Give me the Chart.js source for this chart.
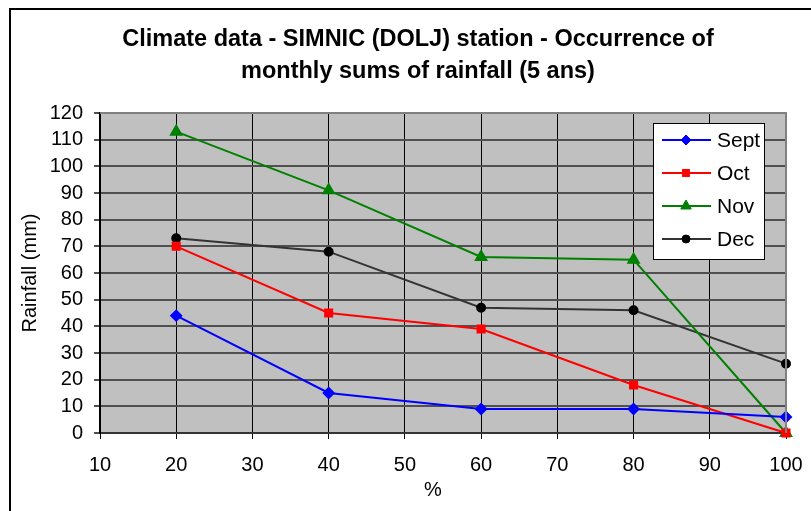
<!DOCTYPE html>
<html>
<head>
<meta charset="utf-8">
<script src="https://cdn.jsdelivr.net/npm/chart.js@4.4.0/dist/chart.umd.min.js"></script>
<style>
  body { margin: 0; background: #fff; }
  #wrap { width: 811px; height: 511px; position: relative; }
</style>
</head>
<body>
<div id="wrap"><canvas id="rainChart" width="811" height="511"></canvas></div>
<script>
const percents = [20, 40, 60, 80, 100];
const sept = [44, 15, 9, 9, 6];
const oct = [70, 45, 39, 18, 0];
const nov = [113, 91, 66, 65, 0];
const dec = [73, 68, 47, 46, 26];
const seriesNames = ['Sept', 'Oct', 'Nov', 'Dec'];
const titleLines = ['Climate data - SIMNIC (DOLJ) station - Occurrence of', 'monthly sums of rainfall (5 ans)'];
const xTitle = '%';

const FONT = 'Liberation Sans, Arial, sans-serif';

function toPoints(values) {
    return values.map((v, i) => ({ x: percents[i], y: v }));
}

// grey plot area, frame, titles
const backgroundPlugin = {
    id: 'background',
    beforeDraw(chart) {
        const { ctx, chartArea } = chart;
        ctx.save();
        ctx.fillStyle = '#fff';
        ctx.fillRect(0, 0, chart.width, chart.height);
        ctx.fillStyle = '#C0C0C0';
        ctx.fillRect(chartArea.left, chartArea.top, chartArea.right - chartArea.left, chartArea.bottom - chartArea.top);
        // chart frame: only top and left edges fall inside the picture
        ctx.strokeStyle = '#000';
        ctx.lineWidth = 2;
        ctx.beginPath();
        ctx.moveTo(10, chart.height);
        ctx.lineTo(10, 9);
        ctx.lineTo(chart.width, 9);
        ctx.stroke();
        ctx.fillStyle = '#000';
        ctx.font = 'bold 23.5px ' + FONT;
        ctx.textAlign = 'center';
        ctx.textBaseline = 'middle';
        ctx.fillText(titleLines[0], 418, 40);
        ctx.fillText(titleLines[1], 418, 72);
        ctx.font = '20px ' + FONT;
        ctx.fillText(xTitle, 433, 490);
        ctx.restore();
    },
    afterDraw(chart) {
        const { ctx, chartArea } = chart;
        ctx.save();
        ctx.strokeStyle = '#808080';
        ctx.lineWidth = 2;
        ctx.beginPath();
        ctx.moveTo(chartArea.left, chartArea.top);
        ctx.lineTo(chartArea.right, chartArea.top);
        ctx.lineTo(chartArea.right, chartArea.bottom);
        ctx.stroke();
        ctx.restore();
    }
};

// legend box inside the plot area
const boxLegendPlugin = {
    id: 'boxLegend',
    afterDraw(chart) {
        const ctx = chart.ctx;
        const x = 653, y = 123, w = 111, h = 136;
        ctx.save();
        ctx.fillStyle = '#fff';
        ctx.fillRect(x, y, w, h);
        ctx.strokeStyle = '#000';
        ctx.lineWidth = 1;
        ctx.strokeRect(x + 0.5, y + 0.5, w, h);
        chart.data.datasets.forEach((ds, i) => {
            const cy = 140 + i * 33;
            ctx.strokeStyle = ds.borderColor;
            ctx.lineWidth = 2;
            ctx.beginPath();
            ctx.moveTo(662, cy);
            ctx.lineTo(711, cy);
            ctx.stroke();
            ctx.fillStyle = ds.pointBackgroundColor;
            ctx.strokeStyle = ds.pointBorderColor;
            ctx.lineWidth = 1;
            Chart.helpers.drawPoint(ctx, {
                pointStyle: ds.pointStyle,
                radius: ds.pointRadius,
                rotation: 0,
                borderWidth: 1
            }, 686, cy);
            ctx.fillStyle = '#000';
            ctx.font = '21px ' + FONT;
            ctx.textBaseline = 'middle';
            ctx.textAlign = 'left';
            ctx.fillText(seriesNames[i], 717, cy + 1);
        });
        ctx.restore();
    }
};

function makeSet(label, values, color, pointColor, style, radius) {
    return {
        label: label,
        data: toPoints(values),
        borderColor: color,
        backgroundColor: pointColor,
        pointBackgroundColor: pointColor,
        pointBorderColor: pointColor,
        pointStyle: style,
        pointRadius: radius,
        borderWidth: 2,
        tension: 0,
        clip: false
    };
}

new Chart(document.getElementById('rainChart'), {
    type: 'line',
    data: {
        datasets: [
            makeSet(seriesNames[0], sept, '#0000FF', '#0000FF', 'rectRot', 5),
            makeSet(seriesNames[1], oct, '#FF0000', '#FF0000', 'rect', 5),
            makeSet(seriesNames[2], nov, '#008000', '#008000', 'triangle', 6),
            makeSet(seriesNames[3], dec, '#333333', '#000000', 'circle', 4)
        ]
    },
    options: {
        responsive: false,
        animation: false,
        layout: { padding: { left: 18, right: 25, top: 113, bottom: 4 } },
        scales: {
            x: {
                type: 'linear',
                min: 10,
                max: 100,
                ticks: { stepSize: 10, autoSkip: false, maxRotation: 0, color: '#000', font: { size: 20, family: FONT }, padding: 14 },
                grid: { color: '#000', lineWidth: 1, tickLength: 6, drawOnChartArea: true },
                border: { color: '#333', width: 2 },
                afterFit(scale) {
                    scale.height = 74;
                    scale.paddingLeft = 0;
                    scale.paddingRight = 0;
                }
            },
            y: {
                min: 0,
                max: 120,
                ticks: { stepSize: 10, autoSkip: false, color: '#000', font: { size: 20, family: FONT }, padding: 11 },
                grid: { color: '#505050', lineWidth: 2, tickLength: 6 },
                border: { color: '#000', width: 2 },
                title: { display: true, text: 'Rainfall (mm)', color: '#000', font: { size: 20, family: FONT }, padding: 0 },
                afterFit(scale) {
                    scale.width = 82;
                    scale.paddingTop = 0;
                    scale.paddingBottom = 0;
                }
            }
        },
        plugins: {
            legend: { display: false },
            tooltip: { enabled: false },
            title: { display: false }
        }
    },
    plugins: [backgroundPlugin, boxLegendPlugin]
});
</script>
</body>
</html>
